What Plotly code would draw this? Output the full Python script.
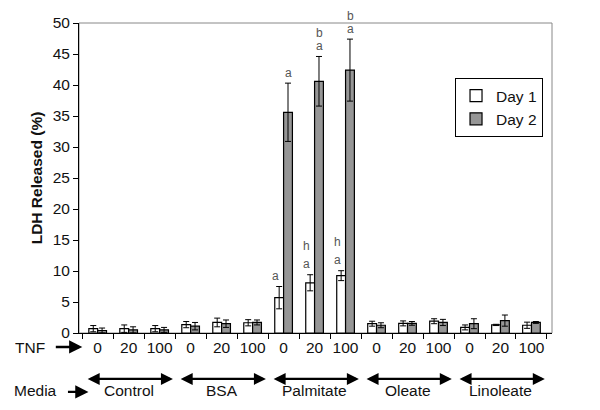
import plotly.graph_objects as go

# groups along the x axis
media = ["Control", "BSA", "Palmitate", "Oleate", "Linoleate"]
tnf = ["0", "20", "100"]

# LDH released (%), mean and error
day1 = [0.7, 0.7, 0.7, 1.35, 1.7, 1.65, 5.7, 8.1, 9.25, 1.5, 1.55, 1.9, 0.9, 1.3, 1.25]
day1_err = [0.5, 0.6, 0.5, 0.5, 0.7, 0.5, 1.8, 1.3, 0.8, 0.4, 0.4, 0.4, 0.4, 0.1, 0.5]
day2 = [0.4, 0.5, 0.5, 1.1, 1.5, 1.7, 35.6, 40.6, 42.4, 1.25, 1.55, 1.7, 1.5, 2.0, 1.7]
day2_err = [0.4, 0.5, 0.4, 0.6, 0.6, 0.4, 4.7, 4.0, 5.0, 0.4, 0.3, 0.5, 0.8, 0.9, 0.15]

# significance letters above the bars, listed bottom to top
day1_letters = [[], [], [], [], [], [], ["a"], ["a", "h"], ["a", "h"], [], [], [], [], [], []]
day2_letters = [[], [], [], [], [], [], ["a"], ["a", "b"], ["a", "b"], [], [], [], [], [], []]

FONT = "Arial, Liberation Sans, sans-serif"
TXT = "#111111"
FS = 15.5

cats = [f"{m} {t}" for m in media for t in tnf]
ticktext = [t for m in media for t in tnf]

fig = go.Figure()
fig.add_trace(go.Bar(
    x=cats, y=day1, name="Day 1",
    marker=dict(color="white", line=dict(color="black", width=1.2)),
    error_y=dict(type="data", array=day1_err, color="black", thickness=1, width=3),
))
fig.add_trace(go.Bar(
    x=cats, y=day2, name="Day 2",
    marker=dict(color="#969696", line=dict(color="black", width=1.2)),
    error_y=dict(type="data", array=day2_err, color="black", thickness=1, width=3),
))

annotations = []
# letters
for i, c in enumerate(cats):
    for vals, errs, letters, shift, step in ((day1, day1_err, day1_letters, -8.5, 18.5),
                                             (day2, day2_err, day2_letters, 4.5, 12.5)):
        for k, letter in enumerate(letters[i]):
            annotations.append(dict(
                x=c, y=vals[i] + errs[i], xref="x", yref="y", text=letter,
                showarrow=False, yanchor="middle", xshift=shift, yshift=10.5 + k * step,
                font=dict(family=FONT, size=12, color="#555555"),
            ))

# TNF / Media row labels with arrows
annotations.append(dict(x=-0.104, y=-0.048, xref="paper", yref="paper", text="TNF",
                        showarrow=False, xanchor="center", yanchor="middle",
                        font=dict(family=FONT, size=FS, color=TXT)))
annotations.append(dict(x=0.007, y=-0.045, xref="paper", yref="paper", ax=-28, ay=0,
                        text="", showarrow=True, arrowhead=2, arrowsize=1.1,
                        arrowwidth=2.4, arrowcolor="black"))
annotations.append(dict(x=-0.091, y=-0.187, xref="paper", yref="paper", text="Media",
                        showarrow=False, xanchor="center", yanchor="middle",
                        font=dict(family=FONT, size=FS, color=TXT)))
annotations.append(dict(x=0.02, y=-0.19, xref="paper", yref="paper", ax=-22, ay=0,
                        text="", showarrow=True, arrowhead=2, arrowsize=1.1,
                        arrowwidth=2.4, arrowcolor="black"))
for g, m in enumerate(media):
    annotations.append(dict(
        x=3 * g + 2.43, y=-0.148, ax=3 * g - 0.37, ay=0,
        xref="x", yref="paper", axref="x", ayref="pixel", text="",
        showarrow=True, arrowhead=2, startarrowhead=2, arrowside="end+start",
        arrowsize=1.0, startarrowsize=1.0, arrowwidth=2.4, arrowcolor="black",
    ))
    annotations.append(dict(
        x=3 * g + 1, y=-0.187, xref="x", yref="paper", text=m, showarrow=False,
        yanchor="middle", font=dict(family=FONT, size=FS, color=TXT),
    ))

# the page adds an 8px body margin, so the figure is 8px smaller and shifted
fig.update_layout(
    width=592, height=402,
    margin=dict(l=71, r=48, t=15, b=77),
    paper_bgcolor="white", plot_bgcolor="white",
    barmode="group", bargap=0.43, bargroupgap=0,
    font=dict(family=FONT, size=FS, color=TXT),
    showlegend=True,
    legend=dict(x=0.888, y=0.727, xanchor="center", yanchor="middle",
                bordercolor="black", borderwidth=1, bgcolor="white",
                font=dict(family=FONT, size=FS, color=TXT),
                itemwidth=30, tracegroupgap=0),
    annotations=annotations,
    shapes=[dict(type="rect", xref="paper", yref="paper", x0=0, x1=1, y0=0, y1=1,
                 line=dict(color="#888888", width=1), layer="below")],
    xaxis=dict(
        tickvals=cats, ticktext=ticktext, tickson="boundaries", tickangle=0,
        ticks="outside", ticklen=5, tickcolor="black", automargin=False,
        showline=True, linecolor="black", linewidth=1, showgrid=False,
        tickfont=dict(family=FONT, size=FS, color=TXT),
    ),
    yaxis=dict(
        range=[0, 50], dtick=5, ticks="outside", ticklen=5, tickcolor="black",
        showline=True, linecolor="black", linewidth=1, showgrid=False, zeroline=False,
        automargin=False,
        tickfont=dict(family=FONT, size=FS, color=TXT),
        title=dict(text="<b>LDH Released (%)</b>", standoff=6,
                   font=dict(family=FONT, size=FS, color=TXT)),
    ),
)

fig.write_html("out.html")
